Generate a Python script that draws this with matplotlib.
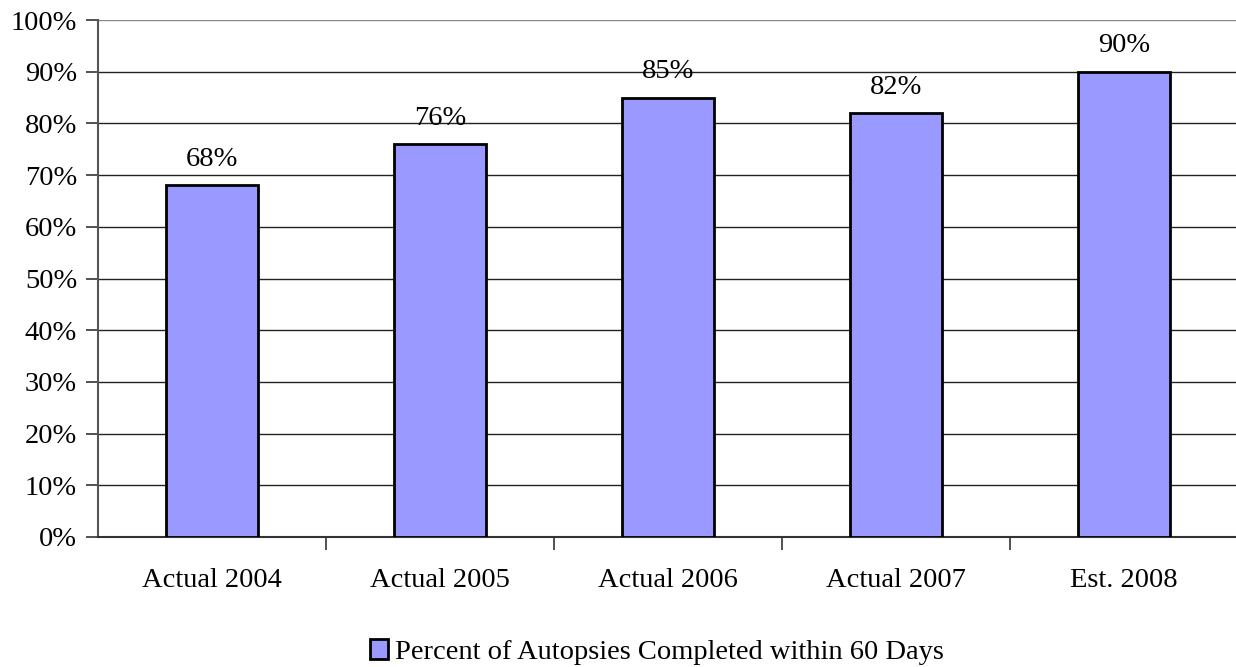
import matplotlib.pyplot as plt
import numpy as np

categories = ['Actual 2004', 'Actual 2005', 'Actual 2006', 'Actual 2007', 'Est. 2008']
values = [68, 76, 85, 82, 90]
series_name = 'Percent of Autopsies Completed within 60 Days'
yticks = np.arange(0, 101, 10)

plt.rcParams['font.family'] = ['Liberation Serif', 'DejaVu Serif']
fs = 20.5

fig = plt.figure(figsize=(12.36, 6.67), dpi=100)
ax = fig.add_axes([98 / 1236, 1 - 537 / 667, 1140 / 1236, 517 / 667])

x = np.arange(len(categories))
bars = ax.bar(x, values, width=0.4, color='#9999FF', edgecolor='black', linewidth=2,
              label=series_name, zorder=3)

for xi, v in zip(x, values):
    ax.annotate('%d%%' % v, (xi, v), xytext=(0, 14), textcoords='offset points',
                ha='center', va='baseline', fontsize=fs)

ax.set_xlim(-0.5, len(categories) - 0.5)
ax.set_ylim(0, 100)
ax.set_yticks(yticks)
ax.set_yticklabels(['%d%%' % t for t in yticks], fontsize=fs)
ax.set_xticks(x)
ax.set_xticklabels(categories, fontsize=fs)
ax.tick_params(axis='x', which='major', length=0, pad=22)
ax.set_xticks(np.arange(0.5, len(categories) - 0.5), minor=True)
ax.tick_params(axis='x', which='minor', length=9, width=1.2, color='#333333', direction='out')
ax.tick_params(axis='y', length=9, width=1.2, color='#333333', pad=6)

ax.grid(axis='y', color='#222222', linewidth=1, zorder=0)
for s in ['top', 'right']:
    ax.spines[s].set_visible(False)
ax.spines['left'].set_color('#555555')
ax.spines['left'].set_linewidth(1.5)
ax.spines['bottom'].set_color('#333333')
ax.spines['bottom'].set_linewidth(1.5)
ax.get_ygridlines()[-1].set_color('#888888')

fig.legend(loc='center', bbox_to_anchor=(657 / 1236, 1 - 652 / 667), frameon=False,
           fontsize=fs, handlelength=0.6, handleheight=0.7, handletextpad=0.25)

fig.savefig('out.png', dpi=100)
